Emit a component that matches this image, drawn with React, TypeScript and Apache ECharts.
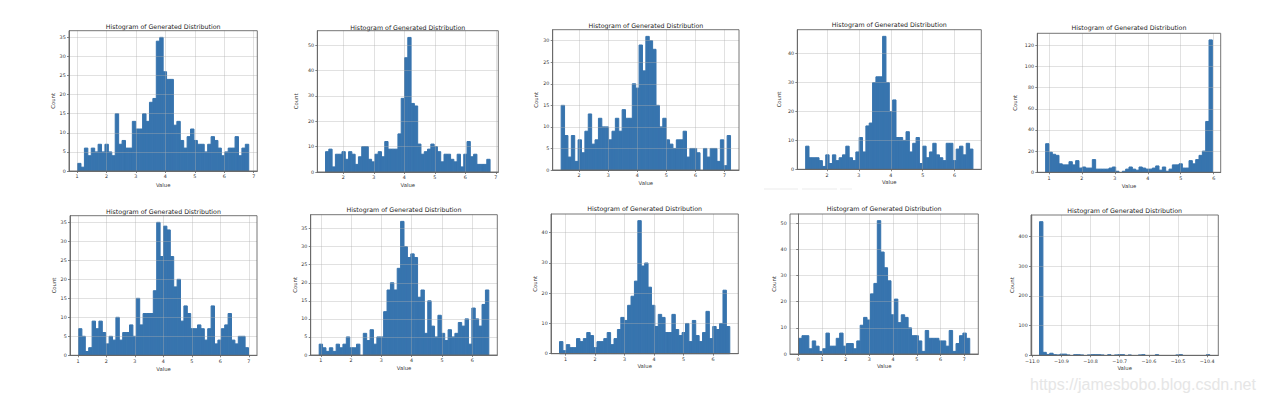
import React, { useEffect, useRef } from "react";
import * as echarts from "echarts";

const TITLE = "Histogram of Generated Distribution";
const X_NAME = "Value";
const Y_NAME = "Count";
const WATERMARK = "https://jamesbobo.blog.csdn.net";

// ---- data: [lowest bin edge, highest bin edge], 50 bin counts, tick labels ----
const p1Range = [1.02, 6.83];
const p1Counts = [2, 1, 6, 4, 6, 5, 7, 5, 7, 5, 4, 15, 7, 8, 6, 6, 13, 11, 11, 15, 13, 18, 19, 34, 35, 26, 24, 24, 12, 13, 8, 6, 9, 11, 8, 7, 7, 5, 7, 9, 8, 6, 4, 5, 6, 6, 9, 4, 6, 7];
const p1XTicks = [1, 2, 3, 4, 5, 6, 7];
const p1YTicks = [0, 5, 10, 15, 20, 25, 30, 35];

const p2Range = [1.414, 6.81];
const p2Counts = [8, 9, 2, 7, 7, 8, 5, 8, 7, 3, 6, 10, 10, 5, 4, 7, 8, 6, 12, 9, 9, 9, 15, 29, 45, 53, 27, 26, 11, 7, 8, 9, 11, 10, 8, 4, 7, 7, 5, 4, 7, 2, 7, 12, 6, 7, 3, 3, 3, 5];
const p2XTicks = [2, 3, 4, 5, 6, 7];
const p2YTicks = [0, 10, 20, 30, 40, 50];

const p3Range = [1.382, 7.206];
const p3Counts = [15, 8, 3, 8, 2, 7, 4, 9, 13, 6, 7, 12, 10, 10, 7, 9, 12, 9, 14, 12, 12, 20, 19, 29, 23, 31, 30, 28, 15, 10, 12, 7, 6, 5, 7, 7, 9, 3, 5, 5, 4, 0, 5, 3, 5, 5, 2, 7, 1, 8];
const p3XTicks = [2, 3, 4, 5, 6, 7];
const p3YTicks = [0, 5, 10, 15, 20, 25, 30];

const p4Range = [1.33, 6.577];
const p4Counts = [8, 4, 4, 4, 3, 1, 5, 2, 5, 3, 4, 5, 8, 4, 3, 6, 11, 6, 15, 16, 30, 32, 32, 46, 30, 20, 24, 11, 11, 10, 13, 6, 9, 11, 2, 8, 4, 6, 9, 5, 4, 3, 9, 9, 3, 7, 8, 5, 9, 7];
const p4XTicks = [2, 3, 4, 5, 6];
const p4YTicks = [0, 10, 20, 30, 40];

const p5Range = [0.9, 5.96];
const p5Counts = [27, 19, 17, 16, 8, 7, 7, 10, 7, 11, 4, 5, 4, 4, 12, 3, 3, 3, 3, 4, 5, 1, 0, 1, 3, 5, 3, 2, 5, 4, 3, 3, 4, 6, 2, 5, 1, 3, 7, 7, 8, 4, 4, 11, 8, 12, 16, 20, 48, 125];
const p5XTicks = [1, 2, 3, 4, 5, 6];
const p5YTicks = [0, 20, 40, 60, 80, 100, 120];

const p6Range = [1.02, 6.99];
const p6Counts = [7, 5, 1, 2, 9, 7, 9, 6, 3, 5, 4, 10, 4, 6, 6, 8, 5, 15, 8, 11, 11, 11, 17, 35, 26, 34, 33, 26, 18, 20, 9, 13, 11, 7, 7, 8, 7, 4, 7, 13, 3, 4, 7, 8, 11, 4, 3, 5, 5, 2];
const p6XTicks = [1, 2, 3, 4, 5, 6, 7];
const p6YTicks = [0, 5, 10, 15, 20, 25, 30, 35];

const p7Range = [0.945, 6.55];
const p7Counts = [3, 2, 1, 2, 1, 3, 2, 3, 5, 2, 2, 3, 0, 6, 4, 7, 3, 5, 5, 12, 18, 20, 18, 24, 37, 30, 27, 28, 27, 16, 18, 6, 15, 8, 5, 11, 6, 4, 7, 5, 6, 9, 8, 10, 3, 13, 10, 8, 14, 18];
const p7XTicks = [1, 2, 3, 4, 5, 6];
const p7YTicks = [0, 5, 10, 15, 20, 25, 30, 35];

const p8Range = [0.796, 6.566];
const p8Counts = [4, 1, 3, 2, 2, 5, 4, 5, 7, 6, 2, 4, 4, 5, 7, 3, 5, 8, 12, 11, 16, 19, 24, 44, 29, 30, 22, 16, 9, 13, 12, 7, 7, 13, 8, 6, 7, 10, 4, 11, 6, 4, 7, 14, 5, 9, 8, 10, 21, 9];
const p8XTicks = [1, 2, 3, 4, 5, 6];
const p8YTicks = [0, 10, 20, 30, 40];

const p9Range = [0.014, 7.23];
const p9Counts = [6, 7, 7, 2, 5, 3, 1, 2, 8, 3, 3, 6, 8, 3, 4, 4, 2, 5, 11, 14, 13, 23, 27, 51, 39, 33, 28, 15, 21, 12, 15, 14, 10, 7, 7, 5, 1, 9, 6, 6, 6, 5, 5, 3, 9, 1, 4, 7, 8, 6];
const p9XTicks = [0, 1, 2, 3, 4, 5, 6, 7];
const p9YTicks = [0, 10, 20, 30, 40, 50];

const p10Range = [-10.975, -10.391];
const p10Counts = [450, 10, 3, 7, 2, 1, 4, 4, 1, 0, 2, 2, 1, 0, 1, 2, 2, 2, 1, 0, 2, 0, 1, 2, 2, 0, 1, 0, 0, 1, 2, 0, 0, 0, 2, 0, 0, 0, 0, 0, 1, 2, 0, 0, 0, 0, 0, 0, 0, 2];
const p10XTicks = [-11.0, -10.9, -10.8, -10.7, -10.6, -10.5, -10.4];
const p10YTicks = [0, 100, 200, 300, 400];

// ---- layout (pixel boxes of each plot area) ----
const layouts = [
  { l: 69, t: 30.7, r: 257.3, b: 171, gapY: 12, gapX: 11, titleY: 26.5 },
  { l: 317.3, t: 30.7, r: 498.3, b: 172, gapY: 18.6, gapX: 10, titleY: 27.5 },
  { l: 552.7, t: 29.7, r: 739, b: 170, gapY: 14, gapX: 10.3, titleY: 25 },
  { l: 797.3, t: 29.7, r: 981.3, b: 169.3, gapY: 15.6, gapX: 10.4, titleY: 24.3 },
  { l: 1037.3, t: 33.3, r: 1220.7, b: 172.3, gapY: 20, gapX: 10.7, titleY: 27.7 },
  { l: 70, t: 215.7, r: 257, b: 355.3, gapY: 13, gapX: 11, titleY: 211 },
  { l: 310.7, t: 214.7, r: 497.3, b: 355, gapY: 13, gapX: 10.3, titleY: 209.3 },
  { l: 551, t: 214, r: 738.3, b: 353.7, gapY: 13.3, gapX: 10, titleY: 208 },
  { l: 790, t: 214, r: 978.3, b: 354, gapY: 12.3, gapX: 9.7, titleY: 208.7 },
  { l: 1031, t: 215, r: 1218.3, b: 355.3, gapY: 16, gapX: 10, titleY: 210.3 },
];

const panels = [
  { range: p1Range, counts: p1Counts, xTicks: p1XTicks, yTicks: p1YTicks, dec: 0 },
  { range: p2Range, counts: p2Counts, xTicks: p2XTicks, yTicks: p2YTicks, dec: 0 },
  { range: p3Range, counts: p3Counts, xTicks: p3XTicks, yTicks: p3YTicks, dec: 0 },
  { range: p4Range, counts: p4Counts, xTicks: p4XTicks, yTicks: p4YTicks, dec: 0 },
  { range: p5Range, counts: p5Counts, xTicks: p5XTicks, yTicks: p5YTicks, dec: 0 },
  { range: p6Range, counts: p6Counts, xTicks: p6XTicks, yTicks: p6YTicks, dec: 0 },
  { range: p7Range, counts: p7Counts, xTicks: p7XTicks, yTicks: p7YTicks, dec: 0 },
  { range: p8Range, counts: p8Counts, xTicks: p8XTicks, yTicks: p8YTicks, dec: 0 },
  { range: p9Range, counts: p9Counts, xTicks: p9XTicks, yTicks: p9YTicks, dec: 0 },
  { range: p10Range, counts: p10Counts, xTicks: p10XTicks, yTicks: p10YTicks, dec: 1 },
];

const FONT = "DejaVu Sans";
const BAR = "#3774ae";
const FRAME = "#666666";
const GRIDLINE = "rgba(176,176,176,0.42)";
const TICK_TEXT = "#333333";

function fmt(v: number, dec: number) {
  const s = Math.abs(v).toFixed(dec);
  return (v < 0 ? "\u2212" : "") + s;
}

function buildOption() {
  const grid: any[] = [];
  const xAxis: any[] = [];
  const yAxis: any[] = [];
  const series: any[] = [];
  const graphic: any[] = [];

  panels.forEach((p, i) => {
    const L = layouts[i];
    const [lo, hi] = p.range;
    const n = p.counts.length;
    const w = (hi - lo) / n;
    const span = hi - lo;
    const ymax = Math.max(...p.counts) * 1.05;

    grid.push({
      left: L.l,
      top: L.t,
      width: L.r - L.l,
      height: L.b - L.t,
      show: true,
      borderColor: FRAME,
      borderWidth: 0.9,
      backgroundColor: "transparent",
      z: 10,
      containLabel: false,
    });

    xAxis.push({
      type: "value",
      gridIndex: i,
      min: lo - 0.05 * span,
      max: hi + 0.05 * span,
      z: 5,
      name: X_NAME,
      nameLocation: "middle",
      nameGap: L.gapX,
      nameTextStyle: { fontSize: 5.3, color: "#333", fontFamily: FONT },
      axisLine: { show: true, lineStyle: { color: FRAME, width: 0.9 } },
      axisTick: {
        show: true,
        inside: false,
        length: 2,
        customValues: p.xTicks,
        lineStyle: { color: FRAME, width: 0.8 },
      },
      axisLabel: {
        customValues: p.xTicks,
        fontSize: 4.8,
        color: TICK_TEXT,
        fontFamily: FONT,
        margin: 3.3,
        formatter: (v: number) => fmt(v, p.dec),
      },
      splitLine: { show: true, lineStyle: { color: GRIDLINE, width: 0.9 } },
    });

    yAxis.push({
      type: "value",
      gridIndex: i,
      min: 0,
      max: ymax,
      z: 5,
      name: Y_NAME,
      nameLocation: "middle",
      nameGap: L.gapY,
      nameTextStyle: { fontSize: 5.3, color: "#333", fontFamily: FONT },
      axisLine: { show: true, lineStyle: { color: FRAME, width: 0.9 } },
      axisTick: {
        show: true,
        inside: false,
        length: 2,
        customValues: p.yTicks,
        lineStyle: { color: FRAME, width: 0.8 },
      },
      axisLabel: {
        customValues: p.yTicks,
        fontSize: 4.8,
        color: TICK_TEXT,
        fontFamily: FONT,
        margin: 3.3,
        formatter: (v: number) => String(v),
      },
      splitLine: { show: true, lineStyle: { color: GRIDLINE, width: 0.9 } },
    });

    series.push({
      type: "custom",
      xAxisIndex: i,
      yAxisIndex: i,
      silent: true,
      z: 2,
      data: p.counts.map((c, k) => [lo + k * w, lo + (k + 1) * w, c]),
      encode: { x: [0, 1], y: 2 },
      renderItem: (params: any, api: any) => {
        const a = api.coord([api.value(0), api.value(2)]);
        const b = api.coord([api.value(1), 0]);
        return {
          type: "rect",
          shape: { x: a[0], y: a[1], width: b[0] - a[0], height: b[1] - a[1] },
          style: { fill: BAR, stroke: api.value(2) > 0 ? BAR : null, lineWidth: 1 },
        };
      },
    });

    graphic.push({
      type: "text",
      x: (L.l + L.r) / 2,
      y: L.titleY,
      silent: true,
      style: {
        text: TITLE,
        fontSize: 6.3,
        fontFamily: FONT,
        fill: "#222",
        align: "center",
        verticalAlign: "middle",
      },
    });
  });

  // faint separators in the source image
  graphic.push(
    { type: "rect", shape: { x: 764, y: 188.5, width: 34, height: 1 }, style: { fill: "#ececec" }, silent: true },
    { type: "rect", shape: { x: 802, y: 188.5, width: 35, height: 1 }, style: { fill: "#ececec" }, silent: true },
    { type: "rect", shape: { x: 840, y: 188.5, width: 12, height: 1 }, style: { fill: "#ececec" }, silent: true }
  );

  graphic.push({
    type: "text",
    x: 1030,
    y: 384,
    silent: true,
    style: {
      text: WATERMARK,
      fontSize: 16,
      fontFamily: "Liberation Sans",
      fill: "#e6e6e6",
      align: "left",
      verticalAlign: "middle",
    },
  });

  return {
    animation: false,
    backgroundColor: "#ffffff",
    grid,
    xAxis,
    yAxis,
    series,
    graphic,
  };
}

export default function App() {
  const ref = useRef<HTMLDivElement>(null);
  useEffect(() => {
    if (!ref.current) return;
    const chart = echarts.init(ref.current, undefined, { renderer: "svg" });
    chart.setOption(buildOption() as any);
    return () => chart.dispose();
  }, []);
  return (
    <div
      ref={ref}
      style={{ position: "fixed", left: 0, top: 0, width: 1264, height: 402, background: "#fff" }}
    />
  );
}
